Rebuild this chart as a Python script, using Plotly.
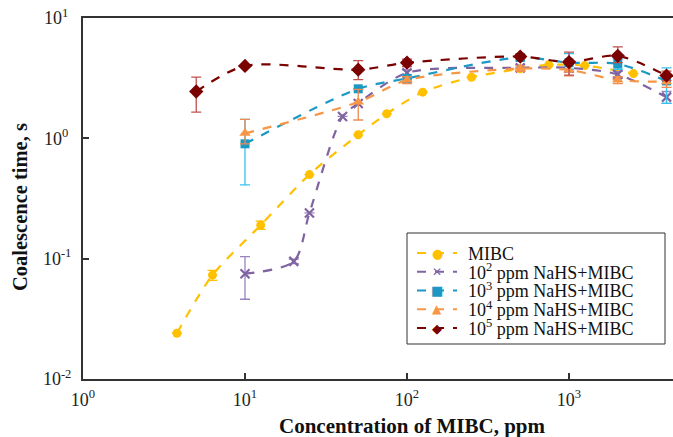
import plotly.graph_objects as go

# ---- data ----
mibc_x = [3.8, 6.3, 12.5, 25, 50, 75, 125, 250, 500, 750, 1250, 2500]
mibc_y = [0.024, 0.073, 0.19, 0.50, 1.07, 1.60, 2.42, 3.22, 3.78, 4.08, 4.02, 3.45]
mibc_ep = [0, 0.007, 0.015, 0, 0, 0, 0, 0, 0, 0, 0, 0]
mibc_em = [0, 0.007, 0.015, 0, 0, 0, 0, 0, 0, 0, 0, 0]

n2_x = [10, 20, 25, 40, 50, 100, 500, 1000, 2000, 4000]
n2_y = [0.075, 0.095, 0.24, 1.52, 1.95, 3.50, 3.85, 3.85, 3.40, 2.20]
n2_ep = [0.029, 0.004, 0, 0, 0, 0.2, 0, 0.3, 0.2, 0.25]
n2_em = [0.029, 0.004, 0, 0, 0, 0.4, 0, 0.3, 0.2, 0.25]

n3_x = [10, 50, 100, 500, 1000, 2000, 4000]
n3_y = [0.90, 2.58, 3.15, 4.70, 4.25, 4.15, 3.00]
n3_ep = [0.54, 0, 0.2, 0.3, 0.8, 0.4, 0.85]
n3_em = [0.49, 0, 0.2, 0.3, 0.5, 0.4, 1.05]

n4_x = [10, 50, 100, 500, 1000, 2000, 4000]
n4_y = [1.10, 2.00, 3.05, 3.80, 3.70, 3.05, 2.95]
n4_ep = [0.34, 0.55, 0.2, 0.2, 0.5, 0.2, 0.3]
n4_em = [0.2, 0.58, 0.2, 0.2, 0.4, 0.2, 0.3]

n5_x = [5, 10, 50, 100, 500, 1000, 2000, 4000]
n5_y = [2.45, 4.00, 3.72, 4.25, 4.78, 4.30, 4.85, 3.32]
n5_ep = [0.78, 0, 0.7, 0.3, 0.2, 0.9, 0.9, 0.3]
n5_em = [0.80, 0, 0.65, 0.3, 0.2, 0.95, 0.6, 0.3]

names = ["MIBC", "10<sup>2</sup> ppm NaHS+MIBC", "10<sup>3</sup> ppm NaHS+MIBC",
         "10<sup>4</sup> ppm NaHS+MIBC", "10<sup>5</sup> ppm NaHS+MIBC"]
legend_glyphs = ["●", "✕", "■", "▲", "◆"]

x_tickvals = [1, 10, 100, 1000]
x_ticktext = ["10<sup>0</sup>", "10<sup>1</sup>", "10<sup>2</sup>", "10<sup>3</sup>"]
y_tickvals = [0.01, 0.1, 1, 10]
y_ticktext = ["10<sup>-2</sup>", "10<sup>-1</sup>", "10<sup>0\u00a0</sup>", "10<sup>1\u00a0</sup>"]

series = [
    (mibc_x, mibc_y, mibc_ep, mibc_em, "#FFC000", "#FFC000", "circle", 9),
    (n2_x, n2_y, n2_ep, n2_em, "#8064A2", "#9B82C0", "x-thin", 9),
    (n3_x, n3_y, n3_ep, n3_em, "#1B98C4", "#33C4F0", "square", 9),
    (n4_x, n4_y, n4_ep, n4_em, "#F79646", "#F08A50", "triangle-up", 10),
    (n5_x, n5_y, n5_ep, n5_em, "#7B0000", "#C0504D", "diamond", 11),
]

SERIF = "Liberation Serif, Times New Roman, serif"

fig = go.Figure()
for (xs, ys, ep, em, col, ecol, sym, sz), nm in zip(series, names):
    marker = dict(color=col, size=sz, symbol=sym)
    if sym == "x-thin":
        marker["line"] = dict(color=col, width=2.2)
    fig.add_trace(go.Scatter(
        x=xs, y=ys, name=nm, mode="lines+markers", showlegend=False,
        line=dict(color=col, width=2.2, dash="dash", shape="spline", smoothing=0.8),
        marker=marker,
        error_y=dict(type="data", array=ep, arrayminus=em, visible=True,
                     color=ecol, thickness=1.3, width=5),
    ))

# ---- layout geometry (pixels -> paper) ----
L, T, R, B = 83, 18, 673, 379
def px2x(px):
    return (px - L) / (R - L)
def py2y(py):
    return (B - py) / (B - T)

shapes = []
annotations = []
# legend box
shapes.append(dict(type="rect", xref="paper", yref="paper",
                   x0=px2x(407), x1=px2x(665), y0=py2y(344), y1=py2y(233),
                   line=dict(color="#333", width=1), fillcolor="white", layer="above"))
row_y = [253, 271.75, 290.5, 309.25, 328]
glyph_size = [13, 12, 13, 12, 13]
for i, (xs, ys, ep, em, col, ecol, sym, sz) in enumerate(series):
    yy = py2y(row_y[i])
    shapes.append(dict(type="line", xref="paper", yref="paper",
                       x0=px2x(417), x1=px2x(457), y0=yy, y1=yy,
                       line=dict(color=col, width=2, dash="dash"), layer="above"))
    annotations.append(dict(xref="paper", yref="paper", x=px2x(437), y=yy,
                            text=legend_glyphs[i], showarrow=False,
                            xanchor="center", yanchor="middle",
                            font=dict(family="DejaVu Sans", size=glyph_size[i], color=col)))
# legend labels: one block, line spacing matching the reference rows
legend_text = "<br>".join(f"<span style='font-size:18px'>{nm}</span>" for nm in names)
annotations.append(dict(xref="paper", yref="paper", x=px2x(466), y=py2y(291),
                        text=legend_text, showarrow=False, align="left",
                        xanchor="left", yanchor="middle",
                        font=dict(family=SERIF, size=14.4, color="#111")))

# axis titles
annotations.append(dict(xref="paper", yref="paper", x=px2x(412), y=py2y(426),
                        text="<b>Concentration of MIBC, ppm</b>", showarrow=False,
                        xanchor="center", yanchor="middle",
                        font=dict(family=SERIF, size=21, color="#111")))
annotations.append(dict(xref="paper", yref="paper", x=px2x(20), y=py2y(207),
                        text="<b>Coalescence time, s</b>", showarrow=False, textangle=-90,
                        xanchor="center", yanchor="middle",
                        font=dict(family=SERIF, size=20.5, color="#111")))

axis_font = dict(family=SERIF, size=18, color="#222")
fig.update_layout(
    width=673, height=437,
    margin=dict(l=L, r=673 - R, t=T, b=437 - B),
    paper_bgcolor="white", plot_bgcolor="white",
    font=dict(family=SERIF, size=16, color="#111"),
    showlegend=False,
    shapes=shapes, annotations=annotations,
)
fig.update_xaxes(
    type="log", range=[0, 3.642],
    tickvals=x_tickvals, ticktext=x_ticktext, tickfont=axis_font,
    ticks="inside", ticklen=6, tickwidth=1.5, tickcolor="#333",
    ticklabelstandoff=3,
    showline=True, linecolor="#333", linewidth=2, mirror=True,
    showgrid=False, zeroline=False,
)
fig.update_yaxes(
    type="log", range=[-2, 1],
    tickvals=y_tickvals, ticktext=y_ticktext, tickfont=axis_font,
    ticks="inside", ticklen=6, tickwidth=1.5, tickcolor="#333",
    ticklabelstandoff=6,
    showline=True, linecolor="#333", linewidth=2, mirror=False,
    showgrid=False, zeroline=False,
)
fig.write_html("out.html")
